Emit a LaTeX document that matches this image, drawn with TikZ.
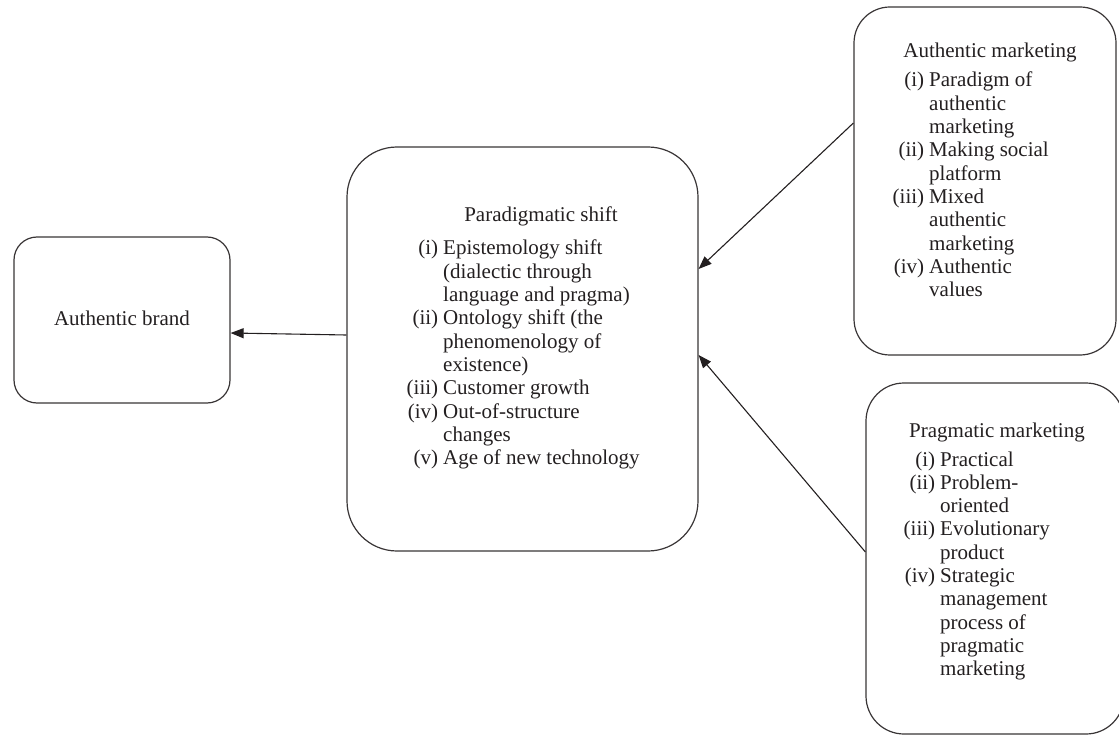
\documentclass[tikz,border=0pt]{standalone}
\usepackage{fontspec}
\setmainfont{Liberation Serif}
\usetikzlibrary{arrows.meta}
\definecolor{ink}{HTML}{231F20}
\tikzset{
  box/.style={draw=ink!90, line width=1.2pt, inner sep=0pt},
  txt/.style={inner sep=0pt, text=ink, font=\fontsize{21}{23.3}\selectfont},
  arr/.style={draw=ink, line width=1.1pt, -{Triangle[length=13pt,width=10pt]}},
}
\newcommand{\lab}[1]{\makebox[33pt][r]{#1}}
\begin{document}
\begin{tikzpicture}[x=1pt,y=1pt]
\useasboundingbox (0,0) rectangle (1119,-735);
% boxes
\node[box, rounded corners=23pt, minimum width=216pt, minimum height=166pt] (brand) at (122,-320) {};
\node[box, rounded corners=50pt, minimum width=351pt, minimum height=404pt] (para) at (522.5,-349) {};
\node[box, rounded corners=36pt, minimum width=262pt, minimum height=348pt] (authmk) at (985,-181) {};
\node[box, rounded corners=38pt, minimum width=258pt, minimum height=351pt] (prag) at (995,-558.5) {};
% texts
\node[txt, anchor=base] (brandtxt) at (122,-325) {Authentic brand};
\node[txt, anchor=base] (paratitle) at (541,-222) {Paradigmatic shift};
\node[txt, anchor=base west] (paralist) at (405,-255) {\begin{tabular}[t]{@{}r@{\hspace{5pt}}l@{}}
\lab{(i)} & Epistemology shift\\
 & (dialectic through\\
 & language and pragma)\\
(ii) & Ontology shift (the\\
 & phenomenology of\\
 & existence)\\
(iii) & Customer growth\\
(iv) & Out-of-structure\\
 & changes\\
(v) & Age of new technology
\end{tabular}};
\node[txt, anchor=base] (authtitle) at (990,-58) {Authentic marketing};
\node[txt, anchor=base west] (authlist) at (891,-87) {\begin{tabular}[t]{@{}r@{\hspace{5pt}}l@{}}
\lab{(i)} & Paradigm of\\
 & authentic\\
 & marketing\\
(ii) & Making social\\
 & platform\\
(iii) & Mixed\\
 & authentic\\
 & marketing\\
(iv) & Authentic\\
 & values
\end{tabular}};
\node[txt, anchor=base] (pragtitle) at (997,-437) {Pragmatic marketing};
\node[txt, anchor=base west] (praglist) at (902,-466) {\begin{tabular}[t]{@{}r@{\hspace{5pt}}l@{}}
\lab{(i)} & Practical\\
(ii) & Problem-\\
 & oriented\\
(iii) & Evolutionary\\
 & product\\
(iv) & Strategic\\
 & management\\
 & process of\\
 & pragmatic\\
 & marketing
\end{tabular}};
% connectors
\draw[arr] ([yshift=14pt]para.west) -- ([yshift=-13pt]brand.east);
\draw[arr] ([yshift=58pt]authmk.west) -- ([yshift=80pt]para.east);
\draw[arr] ([yshift=6.5pt]prag.west) -- ([yshift=-6pt]para.east);
\end{tikzpicture}
\end{document}
